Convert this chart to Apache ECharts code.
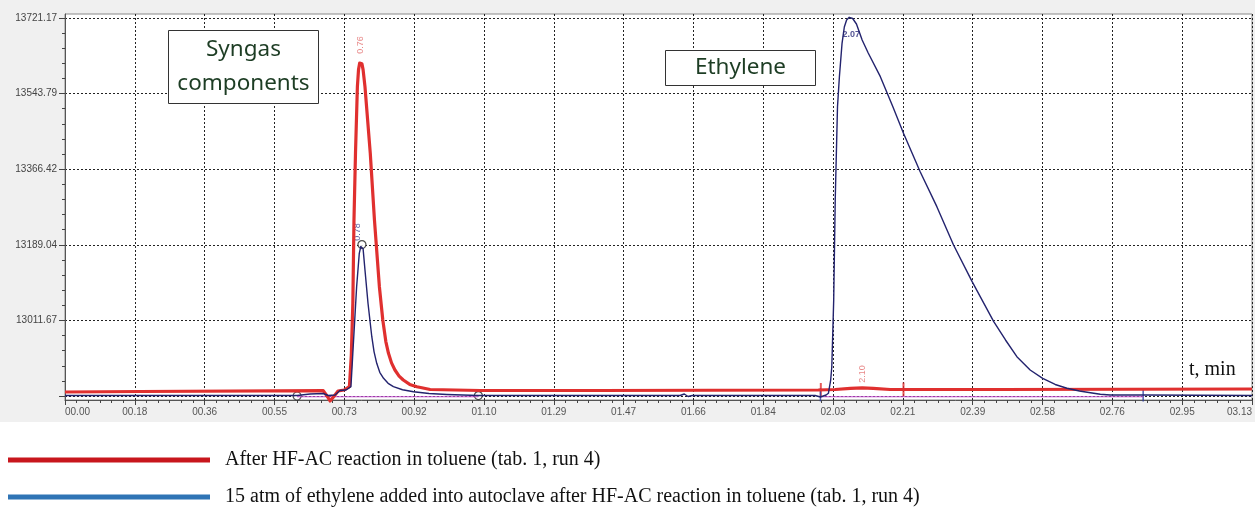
<!DOCTYPE html>
<html>
<head>
<meta charset="utf-8">
<script src="https://cdn.jsdelivr.net/npm/echarts@6.0.0/dist/echarts.min.js"></script>
<style>
html,body{margin:0;padding:0;background:#fff;}
#chart{width:1255px;height:509px;}
</style>
</head>
<body>
<div id="chart"></div>
<script>
// ---- data ----
const xTickLabels = ['00.00','00.18','00.36','00.55','00.73','00.92','01.10','01.29','01.47','01.66','01.84','02.03','02.21','02.39','02.58','02.76','02.95','03.13'];
const yTickLabels = ['12834.29','13011.67','13189.04','13366.42','13543.79','13721.17'];
const xMax = 3.13;
const yLow = 12834.29;
const yHigh = 13721.17;

const seriesNames = [
  'After HF-AC reaction in toluene (tab. 1, run 4)',
  '15 atm of ethylene added into autoclave after HF-AC reaction in toluene (tab. 1, run 4)'
];

// red trace: after HF-AC reaction
const redTrace = [
  [0.000,12843.7],[0.198,12844.9],[0.681,12846.7],[0.691,12834.3],[0.699,12822.6],[0.710,12834.3],
  [0.720,12846.0],[0.736,12848.4],[0.750,12856.1],[0.755,12930.0],[0.759,13051.8],[0.762,13247.2],[0.766,13403.7],
  [0.771,13560.0],[0.774,13600.0],[0.777,13615.5],[0.780,13618.7],[0.783,13614.0],[0.786,13600.0],[0.791,13560.0],[0.805,13403.7],
  [0.816,13247.2],[0.829,13090.7],[0.838,13012.6],[0.846,12962.0],[0.853,12934.5],[0.861,12912.0],[0.870,12895.3],[0.881,12881.0],[0.892,12871.8],
  [0.909,12861.5],[0.928,12856.1],[0.963,12849.5],[1.095,12847.2],[1.411,12847.2],[1.986,12848.4],[2.031,12849.5],
  [2.071,12852.4],[2.102,12853.5],[2.131,12852.4],[2.176,12849.5],[2.466,12849.5],[3.130,12850.7]
];

// navy trace: 15 atm of ethylene added
const navyTrace = [
  [0.000,12835.5],[0.612,12835.5],[0.646,12839.0],[0.681,12840.2],[0.694,12835.5],[0.712,12836.6],
  [0.725,12847.2],[0.741,12848.4],[0.754,12856.1],[0.759,12934.5],[0.764,13012.6],[0.769,13090.7],
  [0.776,13169.1],[0.780,13185.0],[0.783,13189.5],[0.786,13180.0],[0.791,13129.9],[0.799,13051.8],[0.809,12973.4],[0.815,12938.0],[0.822,12911.0],
  [0.830,12890.0],[0.840,12875.8],[0.852,12864.0],[0.866,12856.1],[0.890,12849.0],[0.919,12844.4],[0.960,12840.0],[1.007,12837.8],[1.090,12835.5],[1.622,12835.5],
  [1.633,12839.0],[1.643,12833.1],[1.654,12835.5],[1.978,12835.5],[1.992,12831.9],[2.007,12836.6],
  [2.013,12840.6],[2.019,12871.8],[2.022,12903.0],[2.027,13059.5],[2.031,13294.2],[2.037,13513.1],
  [2.042,13583.5],[2.049,13661.8],[2.055,13700.1],[2.061,13716.5],[2.068,13722.8],[2.077,13720.0],
  [2.087,13707.1],[2.102,13669.6],[2.118,13639.1],[2.150,13583.5],[2.183,13513.1],[2.211,13450.7],
  [2.255,13360.6],[2.299,13278.5],[2.343,13188.6],[2.392,13102.5],[2.449,13008.6],[2.480,12965.7],
  [2.510,12926.5],[2.545,12895.3],[2.578,12875.8],[2.611,12861.3],[2.642,12852.4],[2.675,12846.0],[2.704,12842.0],
  [2.730,12838.5],[2.756,12836.6],[2.843,12836.6],[3.130,12835.5]
];

// integration baselines
const baselineA = [[0.612,12832.5],[1.090,12832.5]];
const baselineB = [[1.992,12832.5],[2.843,12832.5]];

// peak boundary / apex markers
const circleMarkers = [[0.612,12834.3],[0.783,13189.5],[1.090,12835.3]];
const redCuts = [[1.993,12848.4],[2.211,12849.5]];
const navyCuts = [[1.992,12837.0],[2.843,12836.6]];

// retention-time labels
const redPeakLabels = [[0.780,13657.8,'0.76'],[2.102,12885.9,'2.10']];
const navyPeakLabelsRot = [[0.7716,13219.1,'0.78']];
const navyPeakLabelsFlat = [[2.073,13681.3,'2.07']];

// ---- derived scales ----
const xStep = xMax / (xTickLabels.length - 1);
const yStep = (yHigh - yLow) / (yTickLabels.length - 1);
const pxPerUnit = 378 / (yHigh - yLow);
const frameMin = yLow - 4 / pxPerUnit;
const frameMax = yHigh + 4 / pxPerUnit;

const RED = '#e0302f';
const NAVY = '#23236e';
const tickFont = "'Liberation Sans',sans-serif";

const chart = echarts.init(document.getElementById('chart'), null, {renderer:'canvas'});
chart.setOption({
  animation: false,
  backgroundColor: '#f0f0f0',
  grid: [
    {left:65, right:3, top:14, bottom:109, show:true, backgroundColor:'#ffffff', borderColor:'#8a8a8a', borderWidth:1},
    {left:65, right:3, top:18, bottom:113}
  ],
  xAxis: [
    {
      gridIndex:0, type:'value', min:0, max:xMax, interval:xStep,
      axisLine:{show:true, lineStyle:{color:'#555', width:1}},
      axisTick:{show:true, length:5, lineStyle:{color:'#444'}},
      minorTick:{show:true, splitNumber:6, length:3, lineStyle:{color:'#444'}},
      axisLabel:{
        margin:7, color:'#555', fontSize:10, fontFamily:tickFont,
        alignMinLabel:'left', alignMaxLabel:'right',
        formatter: v => { const i = Math.round(v / xStep); return xTickLabels[i] !== undefined ? xTickLabels[i] : ''; }
      },
      splitLine:{show:true, lineStyle:{color:'#222', type:[2,2], width:1}}
    },
    {gridIndex:1, type:'value', min:0, max:xMax, show:false}
  ],
  yAxis: [
    {
      gridIndex:0, type:'value', min:frameMin, max:frameMax,
      axisLine:{show:true, lineStyle:{color:'#555'}},
      axisTick:{show:false}, axisLabel:{show:false}, splitLine:{show:false}
    },
    {
      gridIndex:1, type:'value', min:yLow, max:yHigh, interval:yStep,
      axisLine:{show:false},
      axisTick:{show:true, length:6, lineStyle:{color:'#444'}},
      minorTick:{show:true, splitNumber:5, length:3, lineStyle:{color:'#444'}},
      axisLabel:{
        margin:8, color:'#444', fontSize:10, fontFamily:tickFont, showMinLabel:false,
        formatter: v => { const i = Math.round((v - yLow) / yStep); return yTickLabels[i] !== undefined ? yTickLabels[i] : ''; }
      },
      splitLine:{show:true, lineStyle:{color:'#222', type:[2,2], width:1}}
    }
  ],
  legend: {
    orient:'vertical', left:8, top:448, padding:0, itemGap:13,
    itemWidth:202, itemHeight:5, icon:'rect',
    textStyle:{fontFamily:"'Liberation Serif',serif", fontSize:20, color:'#111', lineHeight:24, padding:[0,0,0,10]},
    data:[
      {name:seriesNames[0], icon:'rect', itemStyle:{color:'#c8161d'}},
      {name:seriesNames[1], icon:'rect', itemStyle:{color:'#2f74b5'}}
    ],
    selectedMode:false
  },
  graphic: [
    {type:'rect', left:0, top:422, z:-5, shape:{width:1255, height:87}, style:{fill:'#ffffff'}, silent:true},
    {type:'rect', x:168.5, y:30.5, z:20, shape:{width:150, height:73}, style:{fill:'#ffffff', stroke:'#333', lineWidth:1}},
    {type:'text', x:243.5, y:67, z:21, style:{text:'Syngas\ncomponents', textAlign:'center', textVerticalAlign:'middle', font:"22.5px 'Noto Sans'", lineHeight:34, fill:'#1d3d24'}},
    {type:'rect', x:665.5, y:50.5, z:20, shape:{width:150, height:35}, style:{fill:'#ffffff', stroke:'#333', lineWidth:1}},
    {type:'text', x:740.5, y:68, z:21, style:{text:'Ethylene', textAlign:'center', textVerticalAlign:'middle', font:"22.5px 'Noto Sans'", fill:'#1d3d24'}},
    {type:'text', x:1189, y:370, z:21, style:{text:'t, min', textAlign:'left', textVerticalAlign:'middle', font:"20px 'Liberation Serif'", fill:'#111'}}
  ],
  series: [
    {name:'baseA', type:'line', data:baselineA, showSymbol:false, silent:true, lineStyle:{color:'#c04ccc', width:1}},
    {name:'baseB', type:'line', data:baselineB, showSymbol:false, silent:true, lineStyle:{color:'#c04ccc', width:1}},
    {name:seriesNames[0], type:'line', data:redTrace, showSymbol:false, smooth:false, clip:false,
      lineStyle:{color:RED, width:3.2, join:'round'}, itemStyle:{color:RED}},
    {name:seriesNames[1], type:'line', data:navyTrace, showSymbol:false, smooth:false, clip:false,
      lineStyle:{color:NAVY, width:1.4, join:'round'}, itemStyle:{color:NAVY}},
    {name:'redCuts', type:'scatter', data:redCuts, symbol:'rect', symbolSize:[2,14], itemStyle:{color:RED}, silent:true},
    {name:'navyCuts', type:'scatter', data:navyCuts, symbol:'rect', symbolSize:[1.5,13], itemStyle:{color:'#2b3b9e'}, silent:true},
    {name:'circles', type:'scatter', data:circleMarkers, symbol:'circle', symbolSize:8, silent:true,
      itemStyle:{color:'#ffffff', borderColor:'#222', borderWidth:1.2}},
    {name:'redLabels', type:'scatter', data:redPeakLabels, symbolSize:0.1, itemStyle:{color:'rgba(0,0,0,0)'}, silent:true,
      label:{show:true, position:'inside', rotate:90, formatter:p => p.data[2], color:'#e26a6a', fontSize:9, fontFamily:"'Liberation Sans',sans-serif"}},
    {name:'navyLabelsRot', type:'scatter', data:navyPeakLabelsRot, symbolSize:0.1, itemStyle:{color:'rgba(0,0,0,0)'}, silent:true,
      label:{show:true, position:'inside', rotate:90, formatter:p => p.data[2], color:'#3a3a8a', fontSize:9, fontFamily:"'Liberation Sans',sans-serif"}},
    {name:'navyLabelsFlat', type:'scatter', data:navyPeakLabelsFlat, symbolSize:0.1, itemStyle:{color:'rgba(0,0,0,0)'}, silent:true,
      label:{show:true, position:'inside', formatter:p => p.data[2], color:'#2a2a7a', fontSize:9, fontWeight:'bold', fontFamily:"'Liberation Sans',sans-serif"}}
  ].map(s => Object.assign({xAxisIndex:0, yAxisIndex:0}, s))
});
</script>
</body>
</html>
